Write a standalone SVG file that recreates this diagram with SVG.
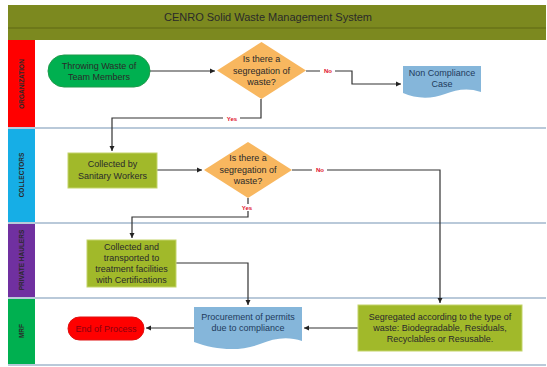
<svg xmlns="http://www.w3.org/2000/svg" width="547" height="367" viewBox="0 0 547 367">
<style>
.t{font-family:"Liberation Sans",Arial,sans-serif;font-size:9px;fill:#2a2a2a;text-anchor:middle}
.lane{font-family:"Liberation Sans",Arial,sans-serif;font-size:6.5px;font-weight:bold;fill:#2a2a2a;text-anchor:middle}
.c{fill:none;stroke:#333;stroke-width:1.2;marker-end:url(#ah)}
.lbl{font-family:"Liberation Sans",sans-serif;font-size:6px;font-weight:bold;fill:#e0102a;text-anchor:middle}
.sep{stroke:#b9c9d9;stroke-width:2}
.box{fill:#a1b92a;stroke:#c3d46a;stroke-width:1}
.dia{fill:#f8b75f}
.doc{fill:#85b6da}
.dt{fill:#1f3b5c}
</style>
<defs>
<marker id="ah" markerWidth="6" markerHeight="6" refX="5" refY="3" orient="auto" markerUnits="userSpaceOnUse">
<path d="M0,0.5 L5,3 L0,5.5 Z" fill="#222"/>
</marker>
</defs>
<rect x="0" y="0" width="547" height="367" fill="#fff"/>
<g id="title">
<rect x="8" y="5" width="538" height="35" fill="#7c891f"/>
<line x1="8" y1="28" x2="546" y2="28" stroke="#687318" stroke-width="1.5"/>
<text x="268" y="21" class="t" style="font-size:11px">CENRO Solid Waste Management System</text>
</g>
<g id="lanes">
<rect x="8" y="40" width="27" height="88" fill="#ff0000"/>
<rect x="8" y="128" width="27" height="95" fill="#16aee6"/>
<rect x="8" y="223" width="27" height="75" fill="#7030a0"/>
<rect x="8" y="298" width="27" height="67" fill="#00b050"/>
<text class="lane" transform="translate(24,84) rotate(-90)">ORGANIZATION</text>
<text class="lane" transform="translate(24,175) rotate(-90)">COLLECTORS</text>
<text class="lane" transform="translate(24,260) rotate(-90)">PRIVATE HAULERS</text>
<text class="lane" transform="translate(24,331) rotate(-90)">MRF</text>
<line class="sep" x1="8" y1="128" x2="546" y2="128"/>
<line class="sep" x1="8" y1="223" x2="546" y2="223"/>
<line class="sep" x1="8" y1="298" x2="546" y2="298"/>
<line class="sep" x1="8" y1="365" x2="546" y2="365"/>
</g>
<g id="connectors">
<path class="c" d="M150,71 H215"/>
<path class="c" d="M306,71 H352 V84 H401"/>
<path class="c" d="M261,99 V118 H112 V151"/>
<path class="c" d="M157,170 H202"/>
<path class="c" d="M292,170 H440 V303"/>
<path class="c" d="M248,198 V217 H132 V238"/>
<path class="c" d="M176,263 H248 V305"/>
<path class="c" d="M358,328 H304"/>
<path class="c" d="M194,328 H146"/>
<rect x="320" y="67" width="15" height="7" fill="#fff"/>
<text class="lbl" x="328" y="73">No</text>
<rect x="223" y="115" width="17" height="7" fill="#fff"/>
<text class="lbl" x="232" y="120.5">Yes</text>
<rect x="312" y="166" width="15" height="7" fill="#fff"/>
<text class="lbl" x="320" y="172">No</text>
<rect x="239" y="204" width="17" height="7" fill="#fff"/>
<text class="lbl" x="247" y="210">Yes</text>
</g>
<g id="start">
<rect x="48" y="55" width="102" height="32" rx="16" fill="#00b050" stroke="#1f9a4a" stroke-width="1"/>
<text class="t" x="99" y="68.5">Throwing Waste of</text>
<text class="t" x="99" y="79.5">Team Members</text>
</g>
<g id="decision1">
<polygon class="dia" points="261.5,42 306,70.5 261.5,99 217,70.5"/>
<text class="t" x="261.5" y="62">Is there a</text>
<text class="t" x="261.5" y="73.5">segregation of</text>
<text class="t" x="261.5" y="85">waste?</text>
</g>
<g id="noncompliance">
<path class="doc" d="M403,66 H481 V92 C467,87 456,90 445,94 C432,99 416,99 403,93 Z"/>
<text class="t dt" x="442" y="76">Non Compliance</text>
<text class="t dt" x="442" y="87">Case</text>
</g>
<g id="collected">
<rect class="box" x="68" y="153" width="89" height="35"/>
<text class="t" x="112.5" y="167">Collected by</text>
<text class="t" x="112.5" y="178.5">Sanitary Workers</text>
</g>
<g id="decision2">
<polygon class="dia" points="248,142 292,170 248,198 204,170"/>
<text class="t" x="248" y="161">Is there a</text>
<text class="t" x="248" y="172.5">segregation of</text>
<text class="t" x="248" y="184">waste?</text>
</g>
<g id="transported">
<rect class="box" x="87" y="240" width="89" height="47"/>
<text class="t" x="131.5" y="249.5">Collected and</text>
<text class="t" x="131.5" y="260.5">transported to</text>
<text class="t" x="131.5" y="271.5">treatment facilities</text>
<text class="t" x="131.5" y="282.5">with Certifications</text>
</g>
<g id="procurement">
<path class="doc" d="M194,307 H302 V341 C288,336 274,338 260,344 C240,352 215,350 194,342 Z"/>
<text class="t dt" x="248" y="320">Procurement of permits</text>
<text class="t dt" x="248" y="331">due to compliance</text>
</g>
<g id="segregated">
<rect class="box" x="358" y="305" width="164" height="46"/>
<text class="t" x="440" y="320">Segregated according to the type of</text>
<text class="t" x="440" y="331">waste: Biodegradable, Residuals,</text>
<text class="t" x="440" y="342">Recyclables or Resusable.</text>
</g>
<g id="end">
<rect x="68" y="317" width="76" height="23" rx="11.5" fill="#ff0000" stroke="#e01010" stroke-width="1"/>
<text class="t" x="106" y="331.5" style="fill:#8a0010">End of Process</text>
</g>
</svg>
